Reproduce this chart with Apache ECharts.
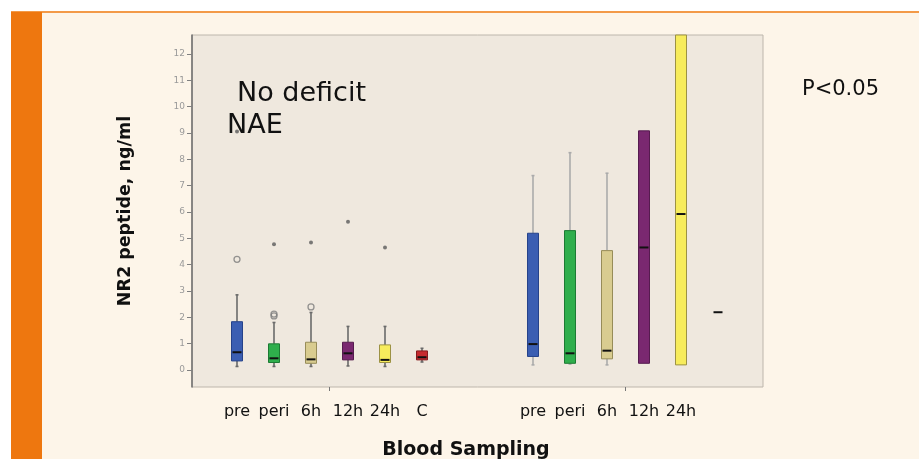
<!DOCTYPE html>
<html>
<head>
<meta charset="utf-8">
<script src="https://cdn.jsdelivr.net/npm/echarts@6/dist/echarts.min.js"></script>
<style>
  html, body { margin: 0; padding: 0; background: #FDF5E9; }
  #chart { width: 919px; height: 459px; }
</style>
</head>
<body>
<div id="chart"></div>
<script>
// Sampling time points within each patient group
const timePoints = ['pre', 'peri', '6h', '12h', '24h', 'C'];

// "No deficit" group: five-number summaries (ng/ml)
const noDeficitMin    = [0.13, 0.13, 0.13, 0.15, 0.13, 0.30];
const noDeficitQ1     = [0.34, 0.28, 0.25, 0.38, 0.28, 0.38];
const noDeficitMedian = [0.67, 0.44, 0.40, 0.63, 0.38, 0.48];
const noDeficitQ3     = [1.83, 0.99, 1.05, 1.05, 0.95, 0.72];
const noDeficitMax    = [2.85, 1.80, 2.18, 1.65, 1.65, 0.82];

// "NAE" group: five-number summaries (ng/ml); last entry is a single value
const naeMin    = [0.19, 0.22, 0.19, 0.25, 0.19, 2.19];
const naeQ1     = [0.51, 0.25, 0.42, 0.25, 0.19, 2.19];
const naeMedian = [0.98, 0.63, 0.73, 4.65, 5.92, 2.19];
const naeQ3     = [5.19, 5.29, 4.53, 9.08, 13.4, 2.19];
const naeMax    = [7.38, 8.25, 7.47, 9.08, 13.4, 2.19];

// Outliers (o) and extreme values (*) of the "No deficit" group, by time point
const noDeficitOutliers = [[0, 4.20], [1, 2.05], [1, 2.12], [2, 2.39]];
const noDeficitExtremes = [[0, 9.05], [1, 4.77], [2, 4.84], [3, 5.63], [4, 4.65]];

// Tick labels
const yTicks = [0, 1, 2, 3, 4, 5, 6, 7, 8, 9, 10, 11, 12];
const naeLabels = ['pre', 'peri', '6h', '12h', '24h', ''];

// Category slots along the x axis: one empty slot at each edge, two between groups
const leftStart = 1;
const rightStart = leftStart + timePoints.length + 2;
const slotCount = rightStart + timePoints.length + 1;
const xLabels = new Array(slotCount).fill('');
timePoints.forEach((t, i) => { xLabels[leftStart + i] = t; });
naeLabels.forEach((t, i) => { xLabels[rightStart + i] = t; });
const groupTicks = [leftStart + timePoints.length / 2, rightStart + timePoints.length / 2];

const boxData = [];
timePoints.forEach((t, i) => {
  boxData.push([leftStart + i, noDeficitMin[i], noDeficitQ1[i], noDeficitMedian[i], noDeficitQ3[i], noDeficitMax[i]]);
});
timePoints.forEach((t, i) => {
  boxData.push([rightStart + i, naeMin[i], naeQ1[i], naeMedian[i], naeQ3[i], naeMax[i]]);
});
const outlierData = noDeficitOutliers.map(d => [leftStart + d[0], d[1]]);
const extremeData = noDeficitExtremes.map(d => [leftStart + d[0], d[1]]);

// Box colours per time point: fill and edge
const boxFill = ['#3B5EB2', '#2FAE4C', '#D9CC90', '#7A2870', '#F7EC5C', '#C62A2E'];
const boxEdge = ['#25428A', '#1C7A33', '#978C58', '#561B4F', '#9C9244', '#861A1D'];
const whiskerColor = ['#6a6a6a', '#ababab'];

function renderBox(params, api) {
  const idx = params.dataIndex;
  const tp = idx % timePoints.length;
  const group = Math.floor(idx / timePoints.length);
  const x = api.value(0);
  const pMin = api.coord([x, api.value(1)]);
  const pQ1 = api.coord([x, api.value(2)]);
  const pMed = api.coord([x, api.value(3)]);
  const pQ3 = api.coord([x, api.value(4)]);
  const pMax = api.coord([x, api.value(5)]);
  const cx = pMed[0];
  const w = 11;
  const cs = params.coordSys;
  const clipArea = { x: cs.x, y: cs.y, width: cs.width, height: cs.height };
  const children = [];
  const wc = whiskerColor[group];
  const hasBox = Math.abs(pQ1[1] - pQ3[1]) > 0.5;
  if (hasBox) {
    if (pMax[1] < pQ3[1] - 0.5) {
      children.push({ type: 'line', shape: { x1: cx, y1: Math.max(pMax[1], cs.y), x2: cx, y2: pQ3[1] },
        style: { stroke: wc, lineWidth: 1.6 } });
      children.push({ type: 'line', shape: { x1: cx - 1.5, y1: pMax[1], x2: cx + 1.5, y2: pMax[1] },
        style: { stroke: wc, lineWidth: 1.6 } });
    }
    if (pMin[1] > pQ1[1] + 0.5) {
      children.push({ type: 'line', shape: { x1: cx, y1: pQ1[1], x2: cx, y2: pMin[1] },
        style: { stroke: wc, lineWidth: 1.6 } });
      children.push({ type: 'line', shape: { x1: cx - 1.5, y1: pMin[1], x2: cx + 1.5, y2: pMin[1] },
        style: { stroke: wc, lineWidth: 1.6 } });
    }
    const rect = echarts.graphic.clipRectByRect(
      { x: cx - w / 2, y: pQ3[1], width: w, height: pQ1[1] - pQ3[1] }, clipArea);
    if (rect) {
      children.push({ type: 'rect', shape: rect,
        style: { fill: boxFill[tp], stroke: boxEdge[tp], lineWidth: 1 } });
    }
  }
  children.push({ type: 'line', shape: { x1: cx - w / 2 + 1, y1: pMed[1], x2: cx + w / 2 - 1, y2: pMed[1] },
    style: { stroke: '#111', lineWidth: 2 } });
  return { type: 'group', children: children };
}

const chart = echarts.init(document.getElementById('chart'), null, { renderer: 'canvas' });
const font = 'DejaVu Sans';

chart.setOption({
  backgroundColor: '#FDF5E9',
  animation: false,
  grid: [
    { left: 192, top: 35, width: 571, height: 352, show: true,
      backgroundColor: '#EFE8DE', borderColor: '#bdb6ac', borderWidth: 1 },
    { left: 181.5, top: 35, width: 592, height: 352 }
  ],
  xAxis: [
    { gridIndex: 0, type: 'value', min: 0, max: 1, show: false },
    { gridIndex: 1, type: 'category', data: xLabels, boundaryGap: true,
      axisLine: { show: false }, axisTick: { show: false }, splitLine: { show: false },
      axisLabel: { interval: 0, fontFamily: font, fontSize: 16, color: '#111', margin: 17 } },
    { gridIndex: 1, type: 'value', min: 0, max: slotCount, position: 'bottom',
      axisLine: { show: false }, splitLine: { show: false }, axisLabel: { show: false },
      axisTick: { show: true, customValues: groupTicks, length: 4, lineStyle: { color: '#777', width: 1 } } }
  ],
  yAxis: [
    { gridIndex: 0, type: 'value', min: -0.65, max: 12.72,
      axisLine: { show: true, lineStyle: { color: '#6b6b6b', width: 1.5 } },
      axisTick: { show: true, customValues: yTicks, length: 5, lineStyle: { color: '#808080' } },
      axisLabel: { customValues: yTicks, fontFamily: font, fontSize: 9, color: '#9a9a9a', margin: 7 },
      splitLine: { show: false },
      name: 'NR2 peptide, ng/ml', nameLocation: 'middle', nameRotate: 90, nameGap: 58,
      nameTextStyle: { fontFamily: font, fontWeight: 'bold', fontSize: 17.5, color: '#111' } },
    { gridIndex: 1, type: 'value', min: -0.65, max: 12.72, show: false }
  ],
  series: [
    { type: 'custom', xAxisIndex: 1, yAxisIndex: 1, data: boxData, renderItem: renderBox, silent: true },
    { type: 'scatter', xAxisIndex: 1, yAxisIndex: 1, data: outlierData, symbol: 'circle', symbolSize: 6, z: 5,
      itemStyle: { color: 'rgba(0,0,0,0)', borderColor: '#7c7c7c', borderWidth: 1.3 }, silent: true },
    { type: 'scatter', xAxisIndex: 1, yAxisIndex: 1, data: extremeData, symbol: 'circle', symbolSize: 4, z: 5,
      itemStyle: { color: '#5a5a5a' }, silent: true }
  ],
  graphic: [
    { type: 'rect', z: -10, shape: { x: 0, y: 0, width: 919, height: 11 }, style: { fill: '#ffffff' } },
    { type: 'rect', z: -10, shape: { x: 0, y: 0, width: 11, height: 459 }, style: { fill: '#ffffff' } },
    { type: 'rect', z: -9, shape: { x: 11, y: 11, width: 908, height: 2 }, style: { fill: '#F39A48' } },
    { type: 'rect', z: -8, shape: { x: 11, y: 12, width: 31, height: 447 }, style: { fill: '#EE770F' } },
    { type: 'text', z: 0, x: 237, y: 93.5,
      style: { text: 'No deficit', font: '27px "DejaVu Sans"', fill: '#111', textVerticalAlign: 'middle' } },
    { type: 'text', z: 0, x: 227, y: 125.5,
      style: { text: 'NAE', font: '27px "DejaVu Sans"', fill: '#111', textVerticalAlign: 'middle' } },
    { type: 'text', z: 0, x: 802, y: 89.5,
      style: { text: 'P<0.05', font: '21px "DejaVu Sans"', fill: '#111', textVerticalAlign: 'middle' } },
    { type: 'text', z: 0, x: 466, y: 450.5,
      style: { text: 'Blood Sampling', font: 'bold 19px "DejaVu Sans"', fill: '#111',
        textAlign: 'center', textVerticalAlign: 'middle' } }
  ]
});
</script>
</body>
</html>
